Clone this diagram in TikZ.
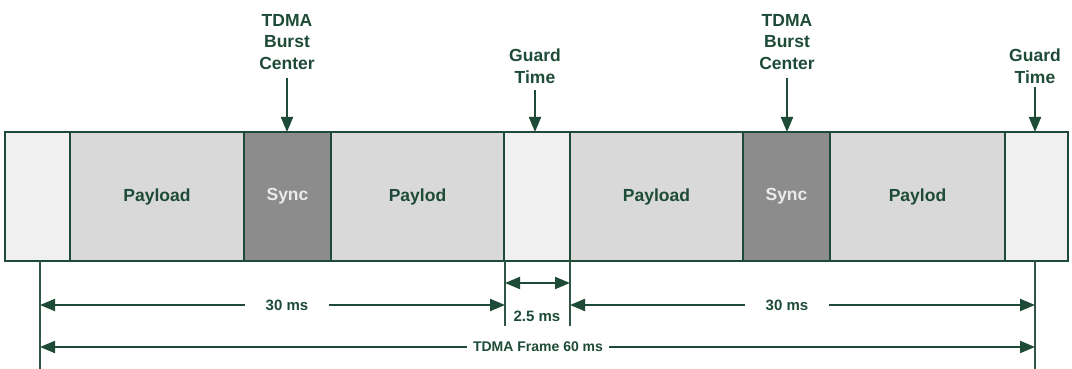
\documentclass[tikz,border=0pt]{standalone}
\usepackage{fontspec}
\setmainfont{Liberation Sans}
\usetikzlibrary{arrows.meta}
\definecolor{dg}{RGB}{30,75,55}
\definecolor{guardc}{RGB}{240,240,240}
\definecolor{payc}{RGB}{217,217,217}
\definecolor{syncc}{RGB}{140,140,140}
\definecolor{synct}{RGB}{235,235,235}
\tikzset{
  block/.style={draw=dg, line width=1.5pt, inner sep=0pt, outer sep=0pt, minimum height=129pt,
     font=\fontsize{17.5}{20}\selectfont\bfseries, text=dg},
  guardbox/.style={block, fill=guardc},
  paybox/.style={block, fill=payc},
  syncbox/.style={block, fill=syncc, text=synct},
  toplabel/.style={align=center, text=dg, font=\fontsize{17.5}{21.5}\selectfont\bfseries, inner sep=0pt},
  dimlabel/.style={text=dg, font=\fontsize{15}{18}\selectfont\bfseries, inner sep=0pt},
  framelabel/.style={text=dg, font=\fontsize{14}{17}\selectfont\bfseries, inner sep=0pt},
  arr/.style={draw=dg, line width=2pt, -{Triangle[length=15pt,width=12pt]}},
  darr/.style={draw=dg, line width=2pt, {Triangle[length=15pt,width=12pt]}-{Triangle[length=15pt,width=12pt]}},
  ext/.style={draw=dg!80!gray, line width=1.5pt}
}
\begin{document}
\begin{tikzpicture}[x=1pt,y=-1pt]
\useasboundingbox (0,0) rectangle (1072,369);
% blocks
\node[guardbox, minimum width=65pt] (g0) at (37.5,196.5) {};
\node[paybox, minimum width=174pt] (p1) at (157,196.5) {Payload};
\node[syncbox, minimum width=87pt] (s1) at (287.5,196.5) {Sync};
\node[paybox, minimum width=173pt] (p2) at (417.5,196.5) {Paylod};
\node[guardbox, minimum width=66pt] (g1) at (537,196.5) {};
\node[paybox, minimum width=173pt] (p3) at (656.5,196.5) {Payload};
\node[syncbox, minimum width=87pt] (s2) at (786.5,196.5) {Sync};
\node[paybox, minimum width=175pt] (p4) at (917.5,196.5) {Paylod};
\node[guardbox, minimum width=63pt] (g2) at (1036.5,196.5) {};
% top labels
\node[toplabel] (b1) at (287,42) {TDMA\\Burst\\Center};
\node[toplabel] (b2) at (787,42) {TDMA\\Burst\\Center};
\node[toplabel] (gt1) at (535,66) {Guard\\Time};
\node[toplabel] (gt2) at (1035,66) {Guard\\Time};
\coordinate (s1t) at (287,132);
\coordinate (s2t) at (787,132);
\coordinate (g1t) at (535,132);
\coordinate (g2t) at (1035,132);
\draw[arr] ([yshift=-8pt]b1.south) -- (s1t);
\draw[arr] ([yshift=-8pt]b2.south) -- (s2t);
\draw[arr] ([yshift=-7pt]gt1.south) -- (g1t);
\draw[arr] ([yshift=-4pt]gt2.south) -- (g2t);
% extension lines
\coordinate (e1a) at (40,261); \coordinate (e1b) at (40,369);
\coordinate (e2a) at (505,261); \coordinate (e2b) at (505,326);
\coordinate (e3a) at (570,261); \coordinate (e3b) at (570,326);
\coordinate (e4a) at (1035,261); \coordinate (e4b) at (1035,369);
\draw[ext] (e1a) -- (e1b);
\draw[ext] (e2a) -- (e2b);
\draw[ext] (e3a) -- (e3b);
\draw[ext] (e4a) -- (e4b);
% 30 ms left
\node[dimlabel] (d1) at (287,305) {30 ms};
\coordinate (d1l) at (40,305); \coordinate (d1r) at (505,305);
\draw[arr] ([xshift=-21pt]d1.west) -- (d1l);
\draw[arr] ([xshift=21pt]d1.east) -- (d1r);
% 2.5 ms
\coordinate (gl) at (505,283); \coordinate (gr) at (570,283);
\draw[darr] (gl) -- (gr);
\node[dimlabel] (d2) at (537,316) {2.5 ms};
% 30 ms right
\node[dimlabel] (d3) at (787,305) {30 ms};
\coordinate (d3l) at (570,305); \coordinate (d3r) at (1035,305);
\draw[arr] ([xshift=-21pt]d3.west) -- (d3l);
\draw[arr] ([xshift=21pt]d3.east) -- (d3r);
% frame
\node[framelabel] (fr) at (538,347) {TDMA Frame 60 ms};
\coordinate (frl) at (40,347); \coordinate (frr) at (1035,347);
\draw[arr] ([xshift=-6pt]fr.west) -- (frl);
\draw[arr] ([xshift=6pt]fr.east) -- (frr);
\end{tikzpicture}
\end{document}
